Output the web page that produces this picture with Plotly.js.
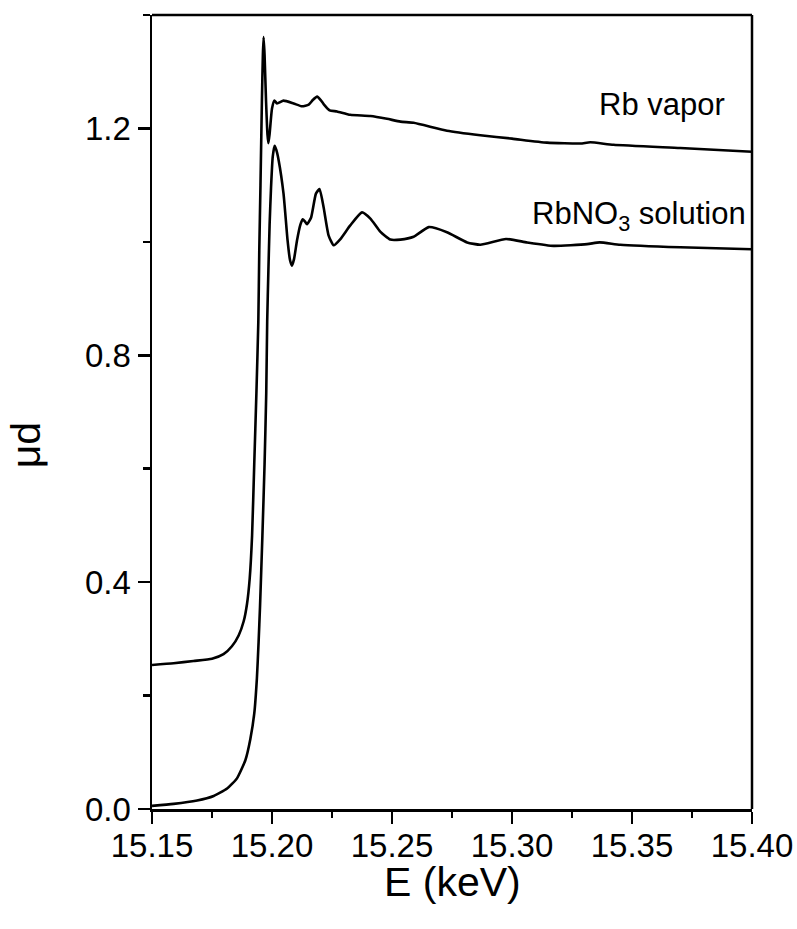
<!DOCTYPE html>
<html>
<head>
<meta charset="utf-8">
<script src="https://cdn.plot.ly/plotly-3.0.1.min.js"></script>
<style>html,body{margin:0;padding:0;background:#fff;}#chart{width:797px;height:929px;}</style>
</head>
<body>
<div id="chart"></div>
<script>
// Rb vapor spectrum
const E_vap = [15.150, 15.159, 15.1673, 15.175, 15.1798, 15.1833, 15.1861, 15.1882, 15.1896, 15.1907, 15.1917, 15.1926, 15.1935, 15.1943, 15.1947, 15.1952, 15.1958, 15.1962, 15.1965, 15.1969, 15.1975, 15.1981, 15.1985, 15.1990, 15.2000, 15.2010, 15.2021, 15.2048, 15.2090, 15.2125, 15.2153, 15.2170, 15.2188, 15.2203, 15.2215, 15.2240, 15.2271, 15.2326, 15.2410, 15.2479, 15.2535, 15.2590, 15.2729, 15.2868, 15.3000, 15.3146, 15.3285, 15.3326, 15.3423, 15.3701, 15.4000];
const mu_vap = [0.254, 0.257, 0.261, 0.265, 0.273, 0.287, 0.306, 0.331, 0.362, 0.406, 0.482, 0.608, 0.733, 0.859, 0.985, 1.100, 1.250, 1.330, 1.361, 1.330, 1.250, 1.190, 1.174, 1.190, 1.235, 1.249, 1.244, 1.249, 1.244, 1.239, 1.242, 1.250, 1.256, 1.250, 1.243, 1.232, 1.230, 1.224, 1.222, 1.217, 1.212, 1.210, 1.196, 1.188, 1.182, 1.175, 1.1735, 1.1755, 1.1712, 1.1654, 1.159];

// RbNO3 solution spectrum
const E_sol = [15.150, 15.159, 15.1688, 15.1757, 15.1813, 15.1854, 15.1889, 15.1910, 15.1926, 15.1937, 15.1944, 15.1950, 15.1960, 15.1969, 15.1976, 15.1980, 15.1985, 15.1990, 15.1996, 15.2003, 15.2011, 15.2018, 15.2028, 15.2048, 15.2065, 15.2075, 15.2083, 15.2092, 15.2104, 15.2118, 15.2128, 15.2137, 15.2146, 15.2163, 15.2183, 15.2198, 15.2215, 15.2236, 15.2257, 15.2285, 15.2326, 15.2375, 15.2410, 15.2451, 15.2493, 15.2535, 15.2590, 15.2653, 15.2729, 15.2813, 15.2868, 15.2975, 15.3063, 15.3173, 15.3313, 15.3365, 15.3451, 15.3701, 15.4000];
const mu_sol = [0.0055, 0.009, 0.015, 0.023, 0.036, 0.054, 0.086, 0.124, 0.168, 0.230, 0.293, 0.356, 0.482, 0.608, 0.733, 0.860, 0.950, 1.030, 1.096, 1.150, 1.1695, 1.162, 1.143, 1.085, 1.002, 0.968, 0.958, 0.970, 1.002, 1.030, 1.040, 1.036, 1.031, 1.043, 1.085, 1.093, 1.061, 1.011, 0.994, 1.005, 1.029, 1.052, 1.041, 1.018, 1.004, 1.004, 1.009, 1.026, 1.017, 0.999, 0.995, 1.005, 0.999, 0.993, 0.996, 0.999, 0.995, 0.9905, 0.987];

const xTickVals = [15.15, 15.20, 15.25, 15.30, 15.35, 15.40];
const yTickVals = [0.0, 0.4, 0.8, 1.2];
const labelVapor = 'Rb vapor';
const labelSol = 'RbNO<sub>3</sub> solution';
const xTitle = 'E (keV)';
const yTitle = 'μd';

const FONT = 'Liberation Sans, Arial, sans-serif';
const lineStyle = {color: '#000', width: 2.6, shape: 'spline', smoothing: 0.5};

const traces = [
  {x: E_vap, y: mu_vap, mode: 'lines', line: lineStyle, hoverinfo: 'skip', showlegend: false},
  {x: E_sol, y: mu_sol, mode: 'lines', line: lineStyle, hoverinfo: 'skip', showlegend: false}
];

const layout = {
  width: 797, height: 929,
  margin: {l: 152, r: 45, t: 15, b: 120},
  paper_bgcolor: '#fff', plot_bgcolor: '#fff',
  font: {family: FONT, color: '#000', size: 33},
  showlegend: false,
  xaxis: {
    range: [15.15, 15.40], tickmode: 'array', tickvals: xTickVals,
    ticktext: xTickVals.map(v => v.toFixed(2)),
    ticks: 'outside', ticklen: 12, tickwidth: 2.5, tickcolor: '#000',
    ticklabelstandoff: -6,
    minor: {dtick: 0.025, tick0: 15.15, ticks: 'outside', ticklen: 6, tickwidth: 2.5, tickcolor: '#000'},
    showline: true, linewidth: 2.5, linecolor: '#000', mirror: false,
    showgrid: false, zeroline: false,
    tickfont: {size: 33, family: FONT}
  },
  yaxis: {
    range: [0, 1.4], tickmode: 'array', tickvals: yTickVals,
    ticktext: yTickVals.map(v => v.toFixed(1)),
    ticks: 'outside', ticklen: 12, tickwidth: 2.5, tickcolor: '#000',
    minor: {dtick: 0.2, tick0: 0, ticks: 'outside', ticklen: 7, tickwidth: 2.5, tickcolor: '#000'},
    showline: true, linewidth: 2.5, linecolor: '#000', mirror: false,
    showgrid: false, zeroline: false,
    tickfont: {size: 33, family: FONT}
  },
  shapes: [
    {type: 'line', xref: 'paper', yref: 'paper', x0: 0, x1: 1, y0: 1, y1: 1, line: {color: '#000', width: 2.5}},
    {type: 'line', xref: 'paper', yref: 'paper', x0: 1, x1: 1, y0: 0, y1: 1, line: {color: '#000', width: 2.5}}
  ],
  annotations: [
    {x: 15.3356, y: 1.243, xref: 'x', yref: 'y', xanchor: 'left', yanchor: 'middle', text: labelVapor, showarrow: false, font: {size: 31, family: FONT, color: '#000'}},
    {x: 15.3076, y: 1.046, xref: 'x', yref: 'y', xanchor: 'left', yanchor: 'middle', text: labelSol, showarrow: false, font: {size: 31, family: FONT, color: '#000'}},
    {x: 0.5, y: -0.092, xref: 'paper', yref: 'paper', xanchor: 'center', yanchor: 'middle', text: xTitle, showarrow: false, font: {size: 41, family: FONT, color: '#000'}},
    {x: -0.21, y: 0.458, xref: 'paper', yref: 'paper', xanchor: 'center', yanchor: 'middle', textangle: -90, text: yTitle, showarrow: false, font: {size: 41, family: FONT, color: '#000'}}
  ]
};

Plotly.newPlot('chart', traces, layout, {staticPlot: true, displayModeBar: false});
</script>
</body>
</html>
